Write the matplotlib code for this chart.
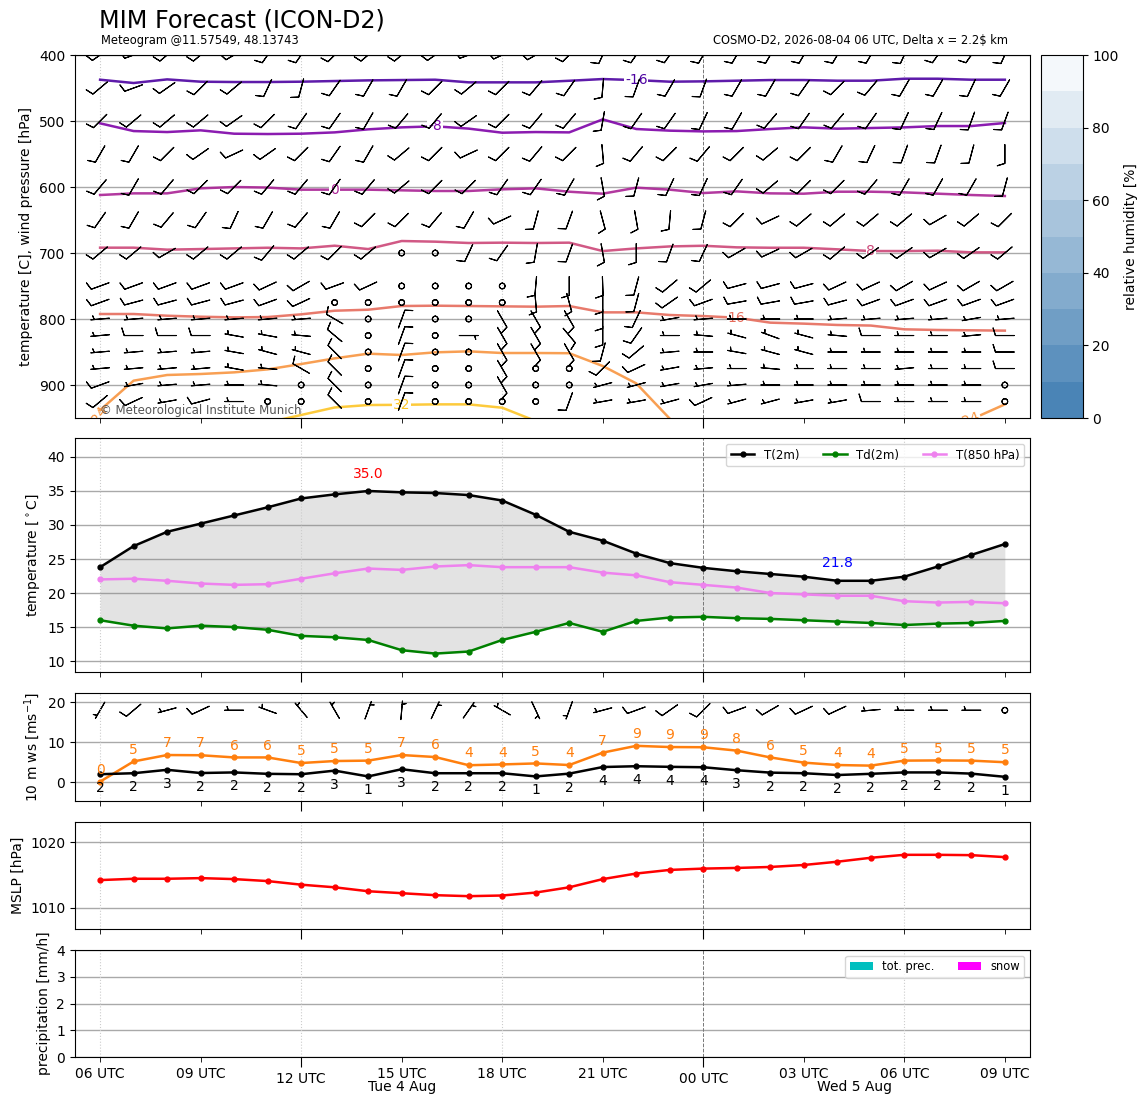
import matplotlib
matplotlib.use('Agg')
import matplotlib.pyplot as plt
import matplotlib.dates as mdates
import matplotlib.transforms as mtransforms
from matplotlib.colors import BoundaryNorm, LinearSegmentedColormap
from matplotlib.cm import ScalarMappable
import numpy as np
import pandas as pd

# ---- data ----
times = pd.date_range('2026-08-04 06:00', periods=28, freq='h')

t2m = [23.8, 26.9, 29.0, 30.2, 31.4, 32.6, 33.9, 34.5, 35.0, 34.8, 34.7, 34.4, 33.6, 31.5,
       29.0, 27.7, 25.8, 24.4, 23.7, 23.2, 22.8, 22.4, 21.8, 21.8, 22.4, 23.9, 25.6, 27.2]
td2m = [16.0, 15.2, 14.8, 15.2, 15.0, 14.6, 13.7, 13.5, 13.1, 11.6, 11.1, 11.4, 13.1, 14.3,
        15.6, 14.3, 15.9, 16.4, 16.5, 16.3, 16.2, 16.0, 15.8, 15.6, 15.3, 15.5, 15.6, 15.9]
t850 = [22.0, 22.1, 21.8, 21.4, 21.2, 21.3, 22.1, 22.9, 23.6, 23.4, 23.9, 24.1, 23.8, 23.8,
        23.8, 23.0, 22.6, 21.6, 21.2, 20.8, 20.0, 19.8, 19.6, 19.6, 18.8, 18.6, 18.7, 18.5]

ws10 = [2.0, 2.25, 3.1, 2.3, 2.45, 2.1, 2.0, 2.9, 1.45, 3.25, 2.25, 2.25, 2.25, 1.45,
        2.15, 3.8, 4.0, 3.85, 3.75, 3.0, 2.4, 2.25, 1.8, 2.1, 2.45, 2.45, 2.15, 1.35]
gust10 = [0.15, 5.2, 6.8, 6.75, 6.2, 6.2, 4.8, 5.3, 5.4, 6.8, 6.3, 4.25, 4.45, 4.7,
          4.3, 7.4, 9.1, 8.8, 8.75, 7.9, 6.2, 4.9, 4.3, 4.15, 5.4, 5.45, 5.4, 5.0]
dir10 = [210, 230, 255, 245, 270, 290, 320, 330, 20, 5, 25, 35, 300, 155,
         200, 255, 250, 235, 225, 250, 240, 245, 245, 265, 270, 270, 270, 0]
kt10 = [5, 10, 5, 10, 5, 5, 5, 5, 5, 5, 5, 5, 5, 5,
        5, 5, 10, 10, 10, 10, 10, 10, 10, 5, 5, 5, 5, 0]

mslp = [1014.2, 1014.4, 1014.4, 1014.5, 1014.35, 1014.05, 1013.5, 1013.1, 1012.5, 1012.2,
        1011.9, 1011.75, 1011.85, 1012.3, 1013.1, 1014.35, 1015.2, 1015.75, 1015.95, 1016.05,
        1016.2, 1016.5, 1017.0, 1017.6, 1018.05, 1018.05, 1018.0, 1017.7]

tot_prec = [0, 0, 0, 0, 0, 0, 0, 0, 0, 0, 0, 0, 0, 0, 0, 0, 0, 0, 0, 0, 0, 0, 0, 0, 0, 0, 0, 0]
snow = [0, 0, 0, 0, 0, 0, 0, 0, 0, 0, 0, 0, 0, 0, 0, 0, 0, 0, 0, 0, 0, 0, 0, 0, 0, 0, 0, 0]

# wind barbs on pressure levels: direction [deg] and speed [kt], one row per level
plevs = [400, 450, 500, 550, 600, 650, 700, 750, 775, 800, 825, 850, 875, 900, 925]
barb_dir = [
    [235, 250, 230, 230, 240, 215, 215, 225, 230, 230, 235, 250, 245, 240, 225, 205, 215, 215, 210, 210, 210, 210, 210, 210, 205, 215, 215, 205],
    [230, 250, 235, 225, 230, 205, 195, 215, 210, 210, 225, 230, 225, 220, 215, 185, 200, 210, 200, 210, 210, 215, 225, 220, 210, 210, 205, 210],
    [225, 230, 230, 230, 235, 225, 215, 215, 210, 220, 220, 235, 225, 220, 220, 190, 215, 215, 205, 210, 220, 215, 220, 215, 205, 205, 200, 200],
    [210, 210, 225, 235, 245, 235, 225, 215, 210, 230, 225, 245, 225, 220, 225, 175, 220, 225, 220, 225, 230, 225, 210, 205, 200, 200, 195, 180],
    [220, 210, 220, 225, 225, 220, 220, 215, 220, 230, 225, 225, 215, 215, 210, 170, 195, 205, 205, 215, 230, 225, 225, 220, 210, 210, 210, 195],
    [215, 210, 220, 215, 205, 210, 220, 210, 225, 225, 220, 210, 245, 195, 200, 165, 170, 185, 195, 225, 245, 230, 230, 230, 230, 240, 230, 225],
    [230, 230, 240, 230, 230, 220, 230, 225, 230, 0, 0, 205, 215, 190, 200, 170, 180, 200, 205, 240, 245, 240, 230, 235, 235, 240, 235, 230],
    [250, 250, 250, 250, 250, 245, 240, 250, 245, 0, 0, 0, 0, 185, 180, 178, 195, 230, 230, 255, 255, 255, 245, 245, 240, 245, 240, 240],
    [250, 255, 255, 255, 255, 250, 245, 0, 0, 0, 0, 0, 0, 175, 165, 180, 195, 235, 250, 260, 260, 260, 255, 250, 250, 250, 250, 250],
    [265, 265, 265, 265, 265, 265, 265, 300, 0, 20, 0, 0, 150, 150, 150, 180, 205, 260, 265, 270, 270, 270, 265, 265, 265, 265, 260, 265],
    [265, 270, 270, 270, 280, 280, 275, 310, 0, 20, 0, 90, 150, 150, 140, 180, 215, 270, 275, 285, 290, 285, 275, 270, 270, 270, 265, 270],
    [265, 265, 265, 265, 280, 285, 285, 315, 0, 20, 0, 0, 150, 150, 150, 195, 230, 265, 270, 280, 285, 285, 270, 270, 270, 270, 270, 270],
    [265, 265, 265, 265, 280, 275, 300, 315, 0, 20, 0, 0, 150, 0, 0, 225, 245, 260, 265, 270, 275, 270, 270, 270, 265, 270, 270, 270],
    [250, 260, 265, 265, 270, 275, 0, 315, 0, 20, 0, 0, 150, 0, 0, 255, 255, 260, 260, 265, 270, 270, 270, 270, 270, 270, 270, 0],
    [230, 245, 260, 255, 270, 0, 0, 315, 0, 20, 0, 0, 0, 0, 200, 260, 260, 255, 245, 255, 255, 260, 260, 270, 270, 270, 270, 0],
]
barb_kt = [
    [10] * 28,
    [10] * 28,
    [10] * 28,
    [10] * 28,
    [10] * 28,
    [10] * 28,
    [10, 10, 10, 10, 10, 10, 10, 10, 10, 0, 0, 10, 10, 10, 10, 10, 10, 10, 10, 10, 10, 10, 10, 10, 10, 10, 10, 10],
    [10, 10, 10, 10, 10, 10, 10, 10, 10, 0, 0, 0, 0, 10, 10, 10, 10, 10, 10, 10, 10, 10, 10, 10, 10, 10, 10, 10],
    [10, 10, 10, 10, 10, 10, 10, 0, 0, 0, 0, 0, 0, 10, 10, 10, 10, 10, 10, 10, 10, 10, 10, 10, 10, 10, 10, 10],
    [5, 5, 5, 5, 5, 5, 5, 10, 0, 10, 0, 0, 10, 10, 10, 10, 10, 5, 5, 5, 5, 5, 5, 5, 5, 5, 5, 5],
    [5, 10, 10, 10, 5, 5, 5, 10, 0, 10, 0, 5, 10, 10, 10, 10, 10, 5, 5, 5, 5, 5, 5, 10, 5, 5, 5, 10],
    [5, 5, 5, 5, 5, 5, 5, 10, 0, 10, 0, 0, 10, 10, 10, 10, 10, 5, 5, 5, 5, 5, 5, 5, 5, 5, 5, 10],
    [5, 5, 5, 5, 5, 5, 10, 10, 0, 10, 0, 0, 10, 0, 0, 10, 10, 5, 5, 5, 5, 5, 5, 5, 5, 5, 5, 10],
    [10, 5, 5, 5, 5, 5, 0, 10, 0, 10, 0, 0, 10, 0, 0, 5, 5, 5, 5, 5, 5, 5, 5, 5, 5, 5, 5, 0],
    [10, 10, 5, 10, 5, 0, 0, 10, 0, 10, 0, 0, 0, 0, 10, 5, 5, 5, 10, 5, 5, 5, 5, 10, 5, 5, 5, 0],
]

# pressure [hPa] of each isotherm at every hour (nan = below the ground / off chart)
nan = np.nan
iso_levels = [-16, -8, 0, 8, 16, 24, 32]
iso_m16 = [437.4, 442.4, 436.9, 440.4, 440.9, 440.9, 440.4, 439.4, 438.4, 437.9, 437.4, 441.4, 441.4, 441.4,
           439.0, 436.4, 438.0, 440.4, 439.9, 438.9, 437.9, 437.9, 438.9, 438.9, 435.9, 435.9, 437.4, 437.4]
iso_m8 = [503.5, 515.2, 516.7, 514.1, 519.2, 519.7, 519.2, 517.2, 512.6, 509.6, 508.0, 511.5, 517.7, 516.7,
          517.2, 497.5, 512.1, 514.6, 515.7, 515.2, 512.1, 509.6, 511.6, 510.6, 509.6, 507.6, 507.6, 503.0]
iso_0 = [612.1, 609.6, 609.6, 602.0, 600.0, 600.8, 604.0, 604.0, 604.0, 605.0, 606.0, 606.0, 603.5, 602.0,
         607.1, 610.1, 601.0, 604.0, 609.1, 606.6, 609.6, 610.1, 607.1, 607.1, 608.1, 610.1, 612.1, 613.6]
iso_8 = [691.9, 691.9, 694.9, 694.0, 693.0, 692.0, 693.0, 688.9, 694.0, 681.8, 682.8, 684.8, 684.3, 684.8,
         684.3, 697.0, 693.0, 690.0, 689.0, 691.4, 692.0, 692.0, 694.4, 697.0, 697.0, 696.5, 699.0, 699.0]
iso_16 = [792.4, 792.4, 795.0, 796.5, 797.5, 797.0, 792.9, 787.4, 785.9, 780.3, 779.8, 780.3, 780.8, 781.3,
          780.3, 789.9, 789.9, 793.9, 795.5, 798.0, 805.5, 807.0, 809.0, 809.9, 815.6, 816.6, 817.1, 817.6]
iso_24 = [938.0, 893.4, 884.8, 883.3, 880.8, 876.3, 868.2, 859.6, 852.5, 854.5, 850.5, 849.0, 851.5, 851.5,
          851.8, 871.2, 897.5, 951.0, nan, nan, nan, nan, nan, nan, nan, nan, 952.0, 929.3]
iso_32 = [nan, nan, nan, nan, nan, 956.8, 945.4, 934.0, 930.3, 930.0, 929.3, 929.3, 934.4, 954.5,
          nan, nan, nan, nan, nan, nan, nan, nan, nan, nan, nan, nan, nan, nan]
iso_lines = [iso_m16, iso_m8, iso_0, iso_8, iso_16, iso_24, iso_32]
# hour index where each isotherm carries its label
iso_label_at = [16, 10, 7, 23, 19, 26, 9]

xnum = mdates.date2num(times.to_pydatetime())
dx = 0.75 / 24


def time_axis(ax, labels=False):
    ax.set_xlim(xnum[0] - dx, xnum[-1] + dx)
    ax.xaxis.set_major_locator(mdates.HourLocator(byhour=[0, 12]))
    ax.xaxis.set_minor_locator(mdates.HourLocator(byhour=[3, 6, 9, 15, 18, 21]))
    ax.xaxis.set_major_formatter(mdates.DateFormatter('%H UTC'))
    ax.xaxis.set_minor_formatter(mdates.DateFormatter('%H UTC'))
    ax.tick_params(axis='x', which='major', length=7)
    ax.tick_params(axis='x', which='minor', length=3.5)
    if not labels:
        ax.tick_params(axis='x', which='both', labelbottom=False)
    for t, x in zip(times, xnum):
        if t.hour == 0:
            ax.axvline(x, color='#777777', ls='--', lw=0.7, zorder=1)
        elif t.hour % 6 == 0:
            ax.axvline(x, color='#cccccc', ls=':', lw=0.8, zorder=1)
    ax.grid(axis='y', color='darkgray', lw=1)
    ax.set_axisbelow(True)


def uv(dirs, kts):
    d = np.radians(np.array(dirs, dtype=float))
    s = np.array(kts, dtype=float)
    return -s * np.sin(d), -s * np.cos(d)


fig = plt.figure(figsize=(11.48, 11.05), dpi=100)
ax0 = fig.add_axes([0.0653, 0.6217, 0.8319, 0.3285])
cax = fig.add_axes([0.9065, 0.6217, 0.0366, 0.3285])
ax1 = fig.add_axes([0.0653, 0.3919, 0.8319, 0.2118])
ax2 = fig.add_axes([0.0653, 0.2751, 0.8319, 0.0977])
ax3 = fig.add_axes([0.0653, 0.1593, 0.8319, 0.0968])
ax4 = fig.add_axes([0.0653, 0.0434, 0.8319, 0.0968])

fig.text(0.0862, 0.981, 'MIM Forecast (ICON-D2)', fontsize=17.2, va='center')
fig.text(0.088, 0.963, 'Meteogram @11.57549, 48.13743', fontsize=8.3, va='center')
fig.text(0.878, 0.963, 'COSMO-D2, 2026-08-04 06 UTC, Delta x = 2.2$ km', fontsize=8.3,
         va='center', ha='right')

# ---- upper air panel ----
plasma = plt.get_cmap('plasma')
for lev, line, k in zip(iso_levels, iso_lines, iso_label_at):
    col = plasma((lev + 24) / 64)
    ax0.plot(xnum, line, color=col, lw=1.8, alpha=0.9, zorder=2)
    rot = 20 if lev == 24 else 0
    ax0.text(xnum[k], line[k], f'{lev}', color=col, fontsize=10, ha='center', va='center',
             rotation=rot, clip_on=True,
             bbox=dict(fc='white', ec='none', pad=0.6), zorder=2.5)
col24 = plasma(0.75)
ax0.text(xnum[0], iso_24[0] + 6, '24', color=col24, fontsize=10, ha='center', va='center',
         rotation=55, clip_on=True, zorder=2.5)

for k, p in enumerate(plevs):
    u, v = uv(barb_dir[k], barb_kt[k])
    ax0.barbs(xnum, np.full(len(xnum), p), u, v, length=5.2, pivot='middle',
              lw=0.8, color='black', zorder=4)

ax0.set_ylim(950, 400)
ax0.set_yticks([400, 500, 600, 700, 800, 900])
ax0.set_ylabel('temperature [C], wind pressure [hPa]')
time_axis(ax0)
ax0.text(0.026, 0.022, '\u00a9 Meteorological Institute Munich', transform=ax0.transAxes,
         fontsize=8.5, color='#555555', va='center', zorder=5)

rh_cmap = LinearSegmentedColormap.from_list('rh', ['#4a84b6', '#f4f8fb'], N=10)
rh_levels = np.arange(0, 101, 10)
sm = ScalarMappable(norm=BoundaryNorm(rh_levels, rh_cmap.N), cmap=rh_cmap)
cb = fig.colorbar(sm, cax=cax, ticks=np.arange(0, 101, 20))
cb.minorticks_off()
cb.set_label('relative humidity [%]')

# ---- 2 m temperature panel ----
ax1.fill_between(xnum, t2m, td2m, color='0.5', alpha=0.22, lw=0)
ax1.plot(xnum, t2m, color='black', marker='o', ms=3.5, lw=1.8, label='T(2m)')
ax1.plot(xnum, td2m, color='green', marker='o', ms=3.5, lw=1.8, label='Td(2m)')
ax1.plot(xnum, t850, color='violet', marker='o', ms=3.5, lw=1.8, label='T(850 hPa)')
imax = int(np.argmax(t2m))
imin = int(np.argmin(t2m[12:])) + 12
ax1.text(xnum[imax], t2m[imax] + 1.4, f'{t2m[imax]:.1f}', color='red', ha='center', va='bottom')
ax1.text(xnum[imin], t2m[imin] + 1.6, f'{t2m[imin]:.1f}', color='blue', ha='center', va='bottom')
ax1.set_ylim(8.4, 42.8)
ax1.set_yticks(np.arange(10, 41, 5))
ax1.set_ylabel(r'temperature [$^\circ$C]')
ax1.legend(loc='upper right', ncol=3, fontsize=8.5)
time_axis(ax1)

# ---- 10 m wind panel ----
ax2.plot(xnum, gust10, color='tab:orange', marker='o', ms=3.5, lw=1.8)
ax2.plot(xnum, ws10, color='black', marker='o', ms=3.5, lw=1.8)
for x, g, w in zip(xnum, gust10, ws10):
    ax2.text(x, g + 1.2, f'{g:.0f}', color='tab:orange', ha='center', va='bottom')
    ax2.text(x, w - 3.5, f'{w:.0f}', color='black', ha='center', va='center')
u10, v10 = uv(dir10, kt10)
ax2.barbs(xnum, np.full(len(xnum), 18.0), u10, v10, length=5.2, pivot='middle', lw=0.8)
ax2.set_ylim(-4.7, 22.3)
ax2.set_yticks([0, 10, 20])
ax2.set_ylabel('10 m ws [ms$^{-1}$]')
time_axis(ax2)

# ---- MSLP panel ----
ax3.plot(xnum, mslp, color='red', marker='o', ms=3.5, lw=1.8)
ax3.set_ylim(min(mslp) - 5, max(mslp) + 5)
ax3.set_yticks([1010, 1020])
ax3.set_ylabel('MSLP [hPa]')
time_axis(ax3)

# ---- precipitation panel ----
ax4.bar(xnum, tot_prec, width=0.8 / 24, color='c', label='tot. prec.')
ax4.bar(xnum, snow, width=0.8 / 24, color='magenta', label='snow')
ax4.set_ylim(0, 4)
ax4.set_yticks([0, 1, 2, 3, 4])
ax4.set_ylabel('precipitation [mm/h]')
ax4.legend(loc='upper right', ncol=2, fontsize=8.3)
time_axis(ax4, labels=True)

# day names centred under the part of each day that is shown
day_tr = mtransforms.blended_transform_factory(ax4.transData, ax4.transAxes)
for day in sorted(set(times.normalize())):
    start = max(times[0], day)
    end = min(times[-1], day + pd.Timedelta(days=1))
    mid = start + (end - start) / 2
    ax4.text(mdates.date2num(mid.to_pydatetime()), -0.28,
             f'{day:%a} {day.day} {day:%b}', transform=day_tr, ha='center', va='center')

fig.savefig('out.png', dpi=100)
